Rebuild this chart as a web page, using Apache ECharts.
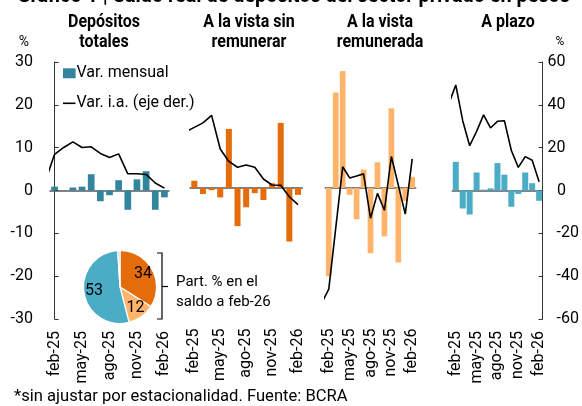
<!DOCTYPE html>
<html><head><meta charset="utf-8">
<script src="https://cdn.jsdelivr.net/npm/echarts@6/dist/echarts.min.js"></script>
<style>html,body{margin:0;padding:0;background:#fff}#c{width:582px;height:406px}</style>
</head><body><div id="c"></div>
<script>
// ---- data ----
const categories = ['feb-25','mar-25','abr-25','may-25','jun-25','jul-25','ago-25','sep-25','oct-25','nov-25','dic-25','ene-26','feb-26'];
const lineCategories = ['ene-25'].concat(categories);
const tickLabels = ['feb-25','may-25','ago-25','nov-25','feb-26'];
const leftTicks = [-30, 30, 10];
const rightTicks = [-60, 60, 20];

const totalMonthly = [0.9, 0.05, 0.7, 0.9, 3.8, -2.5, -1.1, 2.4, -4.5, 2.6, 4.5, -4.5, -1.6];
const totalYoY     = [4.5, 16.9, 20.1, 22.7, 20.1, 20.4, 17.3, 15.4, 17.1, 7.8, 7.8, 7.5, 3.5, 1.1];

const sinRemMonthly = [1.7, -1.4, -0.5, -2.2, 13.8, -8.9, -4.5, -1.2, -2.8, 1.1, 15.2, -12.5, -1.6];
const sinRemYoY     = [26.3, 28.3, 30.4, 33.9, 18.2, 12.4, 9.7, 10.7, 9.7, 4.2, 1.4, 1.3, -4.1, -7.8];

const remMonthly = [-20.6, 22.3, 27.3, -1.6, -7.3, 4.3, -15.2, 6.0, -11.3, 18.6, -17.4, -3.0, 2.6];
const remYoY     = [-53.6, -47.2, -18.7, 9.9, 4.7, 5.6, 6.6, -14.1, -2.5, -10.4, 14.7, 1.3, -12.2, 13.6];

const plazoMonthly = [6.7, -4.2, -5.6, 4.2, 0.2, 0.5, 6.4, 3.7, -3.8, -0.8, 4.2, 1.7, -2.4];
const plazoYoY     = [40.5, 49.3, 32.6, 20.9, 27.6, 35.3, 29.2, 32.3, 32.6, 18.7, 10.8, 15.8, 14.1, 4.1];

const shareNames  = ['A la vista sin remunerar', 'A la vista remunerada', 'A plazo', 'Otros'];
const shareValues = [34, 12, 53, 1];

const panelTitles = ['Depósitos\ntotales', 'A la vista sin\nremunerar', 'A la vista\nremunerada', 'A plazo'];
const legendNames = ['Var. mensual', 'Var. i.a. (eje der.)'];
const mainTitle = 'Gráfico 1 | Saldo real de depósitos del sector privado en pesos';
const footer = '*sin ajustar por estacionalidad. Fuente: BCRA';

// ---- layout / style ----
const panels = [
  {monthly: totalMonthly,  yoy: totalYoY,  color:'#31859C', left:50,    width:119,  top:62,   barWidth:6.7, tx:104},
  {monthly: sinRemMonthly, yoy: sinRemYoY, color:'#E46C0A', left:190,   width:112.3,top:59.5, barWidth:6.0, tx:249},
  {monthly: remMonthly,    yoy: remYoY,    color:'#FFB469', left:325.3, width:90.4, top:59.5, barWidth:5.7, tx:380},
  {monthly: plazoMonthly,  yoy: plazoYoY,  color:'#4BACC6', left:452.3, width:96.3, top:62,   barWidth:6.0, tx:508}
];
const H = 257;
const pieColors = ['#E46C0A', '#FFB469', '#4BACC6', '#B4D3DE'];
const FONT = 'Roboto';

const grid = [], xAxis = [], yAxis = [], series = [];
panels.forEach((p, g) => {
  grid.push({left: p.left, top: p.top, width: p.width, height: H, containLabel: false});
  xAxis.push({
    type: 'category', gridIndex: g, data: categories, boundaryGap: true,
    axisLine: {show: false, onZero: false}, axisTick: {show: false}, splitLine: {show: false},
    axisLabel: {interval: (i, v) => tickLabels.includes(v), rotate: 90, margin: 12,
      fontSize: 16, fontFamily: FONT, color: '#000'}
  });
  xAxis.push({
    type: 'value', gridIndex: g, min: -0.5, max: 12.5,
    axisLine: {show: true, onZero: true, onZeroAxisIndex: 2 * g, lineStyle: {color: '#5a5a5a', width: 1.5}},
    axisTick: {show: false}, axisLabel: {show: false}, splitLine: {show: false}
  });
  yAxis.push({
    type: 'value', gridIndex: g, min: leftTicks[0], max: leftTicks[1], interval: leftTicks[2],
    show: g === 0, position: 'left',
    axisLine: {show: true, lineStyle: {color: '#333', width: 1}},
    axisTick: {show: true, inside: true, length: 4, lineStyle: {color: '#333'}},
    axisLabel: {margin: 17, fontSize: 16, fontFamily: FONT, color: '#000'},
    splitLine: {show: false}
  });
  yAxis.push({
    type: 'value', gridIndex: g, min: rightTicks[0], max: rightTicks[1], interval: rightTicks[2],
    show: g === 3, position: 'right',
    axisLine: {show: true, lineStyle: {color: '#333', width: 1}},
    axisTick: {show: true, inside: true, length: 4, lineStyle: {color: '#333'}},
    axisLabel: {margin: 5, align: 'left', fontSize: 16, fontFamily: FONT, color: '#000',
      formatter: v => v < 0 ? '{n|' + v + '}' : (v < 10 ? '{z|' + v + '}' : '{p|' + v + '}'),
      rich: {
        p: {fontSize: 16, fontFamily: FONT, color: '#000'},
        z: {fontSize: 16, fontFamily: FONT, color: '#000', padding: [0, 0, 0, 9.3]},
        n: {fontSize: 16, fontFamily: FONT, color: '#000', padding: [0, 0, 0, 9]}
      }},
    splitLine: {show: false}
  });
  series.push({
    name: legendNames[0], type: 'bar', xAxisIndex: 2 * g, yAxisIndex: 2 * g,
    data: p.monthly, barWidth: p.barWidth, itemStyle: {color: p.color}, z: 2, silent: true
  });
  series.push({
    name: legendNames[1], type: 'line', xAxisIndex: 2 * g + 1, yAxisIndex: 2 * g + 1,
    data: p.yoy.map((v, i) => [i - 1, v]), symbol: 'none', clip: true,
    lineStyle: {color: '#000', width: 1.6}, itemStyle: {color: '#000'}, z: 3, silent: true
  });
});

const pieData = shareValues.map((v, i) => ({name: shareNames[i], value: v, itemStyle: {color: pieColors[i]}}));
series.push({
  type: 'pie', center: [120, 287], radius: 36.5, startAngle: 90, clockwise: true, silent: true,
  data: pieData, label: {show: false}, labelLine: {show: false},
  itemStyle: {borderColor: '#fff', borderWidth: 1.2}
});
series.push({
  type: 'pie', center: [120, 287], radius: [10, 36.5], startAngle: 90, clockwise: true, silent: true,
  data: shareValues.map((v, i) => ({name: shareNames[i], value: v,
    itemStyle: {color: 'rgba(0,0,0,0)'}, label: {show: v > 5}})),
  label: {show: true, position: 'inside', formatter: '{c}', fontSize: 16, fontFamily: FONT, color: '#000'},
  labelLine: {show: false}, z: 5
});

const graphic = [
  {type: 'text', x: 17, y: -3.5, scaleX: 0.9, style: {text: mainTitle, x: 0, y: 0, textAlign: 'left', textVerticalAlign: 'middle',
    fontSize: 22, fontWeight: 'bold', fontFamily: FONT, fill: '#000'}},
  {type: 'text', style: {text: '%', x: 24, y: 42, textAlign: 'center', textVerticalAlign: 'middle',
    fontSize: 14, fontFamily: FONT, fill: '#000'}},
  {type: 'text', style: {text: '%', x: 560, y: 42, textAlign: 'center', textVerticalAlign: 'middle',
    fontSize: 12, fontFamily: FONT, fill: '#000'}},
  // legend
  {type: 'rect', shape: {x: 63, y: 68.3, width: 12.6, height: 10}, style: {fill: panels[0].color}},
  {type: 'text', style: {text: legendNames[0], x: 76.5, y: 73.3, textAlign: 'left', textVerticalAlign: 'middle',
    fontSize: 16, fontFamily: FONT, fill: '#000'}},
  {type: 'line', shape: {x1: 63, y1: 103.3, x2: 75.5, y2: 103.3}, style: {stroke: '#000', lineWidth: 1.6}},
  {type: 'text', style: {text: legendNames[1], x: 76.5, y: 103.3, textAlign: 'left', textVerticalAlign: 'middle',
    fontSize: 16, fontFamily: FONT, fill: '#000'}},
  // bracket
  {type: 'polyline', shape: {points: [[157, 253], [162, 253], [162, 319], [157, 319]]},
    style: {stroke: '#000', lineWidth: 1.2, fill: null}},
  {type: 'line', shape: {x1: 162, y1: 286.5, x2: 168, y2: 286.5}, style: {stroke: '#000', lineWidth: 1.2}},
  {type: 'text', style: {text: 'Part. % en el\nsaldo a feb-26', x: 176, y: 272, textAlign: 'left', textVerticalAlign: 'top',
    fontSize: 15, lineHeight: 20, fontFamily: FONT, fill: '#000'}},
  {type: 'text', style: {text: footer, x: 14, y: 397, textAlign: 'left', textVerticalAlign: 'middle',
    fontSize: 16.6, fontFamily: FONT, fill: '#000'}}
];
panels.forEach((p, g) => {
  graphic.push({type: 'text', x: p.tx, y: 12, scaleX: 0.89, style: {text: panelTitles[g], x: 0, y: 0, textAlign: 'center', textVerticalAlign: 'top',
    fontSize: 18, lineHeight: 20, fontWeight: 'bold', fontFamily: FONT, fill: '#000'}});
});

const chart = echarts.init(document.getElementById('c'), null, {renderer: 'canvas'});
chart.setOption({
  animation: false,
  backgroundColor: '#fff',
  grid, xAxis, yAxis, series, graphic
});
</script></body></html>
